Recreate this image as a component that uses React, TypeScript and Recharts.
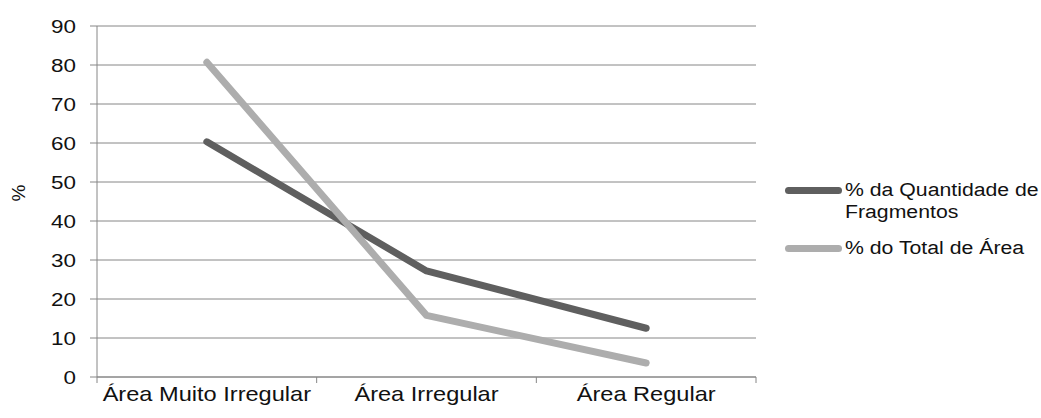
import React from "react";
import {
  LineChart,
  Line,
  XAxis,
  YAxis,
  CartesianGrid,
} from "recharts";

const categories = ["Área Muito Irregular", "Área Irregular", "Área Regular"];
const fragmentos = [60.3, 27.2, 12.5];
const totalArea = [80.7, 15.8, 3.6];
const yTicks = [0, 10, 20, 30, 40, 50, 60, 70, 80, 90];
// integer ticks are the category boundaries, half ticks carry the labels
const xTicks = [0, 0.5, 1, 1.5, 2, 2.5, 3];

const seriesNames = ["% da Quantidade de Fragmentos", "% do Total de Área"];
const legendLines = [["% da Quantidade de", "Fragmentos"], ["% do Total de Área"]];
const DARK = "#5f5f5f";
const LIGHT = "#adadad";
const GRID = "#868686";
const TEXT = "#111";
const STRETCH = 1.18;
const FONT = "Liberation Sans, Arial, sans-serif";

const data = categories.map((c, i) => ({
  category: c,
  slot: i + 0.5,
  fragmentos: fragmentos[i],
  totalArea: totalArea[i],
}));

function YTick({ x, y, payload }: any) {
  return (
    <text
      transform={`translate(${x},${y}) scale(${STRETCH},1)`}
      textAnchor="end"
      dy="0.36em"
      fontSize={19}
      fill={TEXT}
      fontFamily={FONT}
    >
      {payload.value}
    </text>
  );
}

function XTick({ x, y, payload }: any) {
  const v = payload.value;
  if (Number.isInteger(v)) {
    return <line x1={x} x2={x} y1={y} y2={y + 6} stroke={GRID} />;
  }
  return (
    <text
      transform={`translate(${x},${y + 9}) scale(${STRETCH},1)`}
      textAnchor="middle"
      dy="0.75em"
      fontSize={20}
      fill={TEXT}
      fontFamily={FONT}
    >
      {categories[Math.floor(v)]}
    </text>
  );
}

function ChartLegend() {
  const colors = [DARK, LIGHT];
  return (
    <div
      style={{
        position: "absolute",
        left: 785,
        top: 179,
        fontFamily: FONT,
        fontSize: 18,
        color: TEXT,
      }}
    >
      {legendLines.map((txt, i) => (
        <div key={seriesNames[i]} style={{ display: "flex", alignItems: "flex-start", marginBottom: 14 }}>
          <div
            style={{
              width: 57,
              height: 7,
              borderRadius: 4,
              background: colors[i],
              marginTop: 8,
              marginRight: 3,
              flexShrink: 0,
            }}
          />
          <div
            style={{
              transform: `scaleX(${STRETCH})`,
              transformOrigin: "left",
              lineHeight: "22px",
              whiteSpace: "nowrap",
            }}
          >
            {txt.map((t) => (
              <div key={t}>{t}</div>
            ))}
          </div>
        </div>
      ))}
    </div>
  );
}

export default function App() {
  return (
    <div style={{ position: "absolute", left: 0, top: 0, width: 1041, height: 418, background: "#fff" }}>
      <LineChart
        width={1041}
        height={418}
        data={data}
        margin={{ top: 26, right: 285, left: 0, bottom: 0 }}
      >
        <CartesianGrid stroke={GRID} vertical={false} />
        <XAxis
          dataKey="slot"
          type="number"
          domain={[0, 3]}
          ticks={xTicks}
          interval={0}
          height={41}
          axisLine={{ stroke: GRID }}
          tickLine={false}
          tickSize={0}
          tickMargin={0}
          tick={<XTick />}
        />
        <YAxis
          width={97}
          domain={[0, 90]}
          ticks={yTicks}
          axisLine={{ stroke: GRID }}
          tickLine={{ stroke: GRID }}
          tickSize={7}
          tickMargin={14}
          tick={<YTick />}
          interval={0}
          label={{
            value: "%",
            angle: -90,
            position: "insideLeft",
            offset: 18,
            style: { fontSize: 19, fill: TEXT, fontFamily: FONT },
          }}
        />
        <Line
          name={seriesNames[0]}
          dataKey="fragmentos"
          stroke={DARK}
          strokeWidth={7}
          strokeLinecap="round"
          strokeLinejoin="round"
          dot={false}
          isAnimationActive={false}
        />
        <Line
          name={seriesNames[1]}
          dataKey="totalArea"
          stroke={LIGHT}
          strokeWidth={7}
          strokeLinecap="round"
          strokeLinejoin="round"
          dot={false}
          isAnimationActive={false}
        />
      </LineChart>
      <ChartLegend />
    </div>
  );
}
